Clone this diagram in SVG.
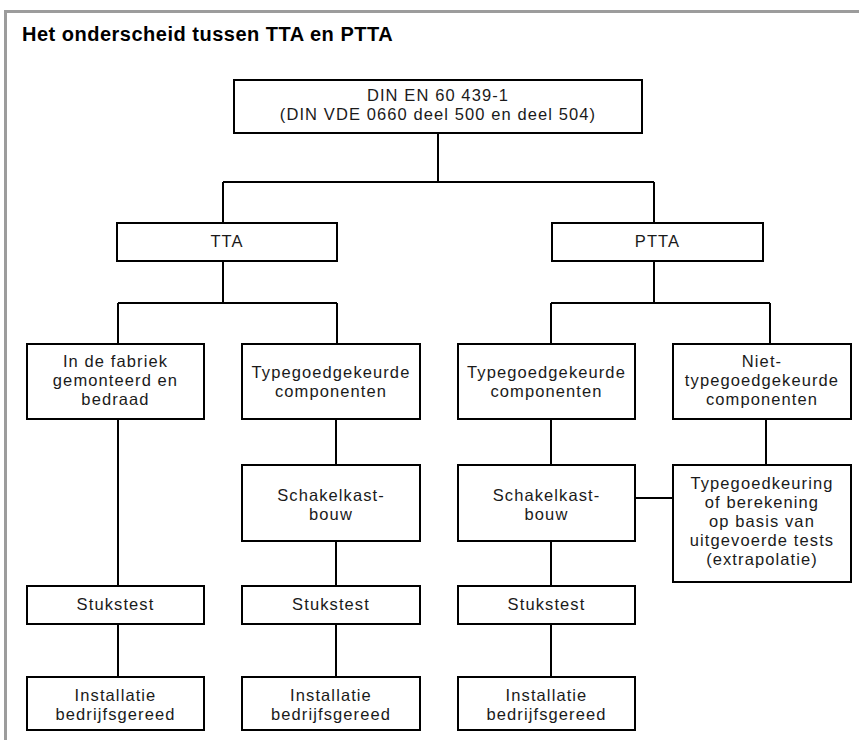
<svg xmlns="http://www.w3.org/2000/svg" width="859" height="740" viewBox="0 0 859 740">
<style>
.box{fill:#fff;stroke:#000;stroke-width:2}
.ln{stroke:#000;stroke-width:2;fill:none}
.t{font-family:"Liberation Sans",Arial,sans-serif;font-size:16.5px;letter-spacing:1.1px;fill:#1a1a1a;text-anchor:middle}
.title{font-family:"Liberation Sans",Arial,sans-serif;font-size:20px;font-weight:bold;letter-spacing:0.5px;fill:#000}
</style>
<rect x="0" y="0" width="859" height="740" fill="#fff"/>
<g id="frame">
<line x1="4" y1="11.5" x2="859" y2="11.5" stroke="#9c9c9c" stroke-width="3"/>
<line x1="5.5" y1="10" x2="5.5" y2="740" stroke="#9c9c9c" stroke-width="3"/>
</g>
<text class="title" x="22" y="41">Het onderscheid tussen TTA en PTTA</text>
<g id="connectors">
<path class="ln" d="M438,133 V182 M223,182 H654 M223,182 V223 M654,182 V223"/>
<path class="ln" d="M223,261 V303 M118,303 H337 M118,303 V344 M337,303 V344"/>
<path class="ln" d="M654,261 V303 M551,303 H770 M551,303 V344 M770,303 V344"/>
<path class="ln" d="M118,419 V586 M118,624 V677"/>
<path class="ln" d="M336,419 V465 M336,541 V586 M336,624 V677"/>
<path class="ln" d="M551,419 V465 M551,541 V586 M551,624 V677"/>
<path class="ln" d="M766,419 V465 M635,498 H673"/>
</g>
<g id="din">
<rect class="box" x="234" y="80" width="408" height="53"/>
<text class="t" x="438" y="101">DIN EN 60 439-1</text>
<text class="t" x="438" y="120">(DIN VDE 0660 deel 500 en deel 504)</text>
</g>
<g id="tta">
<rect class="box" x="117" y="223" width="220" height="38"/>
<text class="t" x="227" y="247">TTA</text>
</g>
<g id="ptta">
<rect class="box" x="552" y="223" width="211" height="38"/>
<text class="t" x="657.5" y="247">PTTA</text>
</g>
<g id="fabriek">
<rect class="box" x="27" y="344" width="177" height="75"/>
<text class="t" x="115.5" y="367">In de fabriek</text>
<text class="t" x="115.5" y="386">gemonteerd en</text>
<text class="t" x="115.5" y="405">bedraad</text>
</g>
<g id="typ1">
<rect class="box" x="242" y="344" width="178" height="75"/>
<text class="t" x="331" y="377.5">Typegoedgekeurde</text>
<text class="t" x="331" y="396.5">componenten</text>
</g>
<g id="typ2">
<rect class="box" x="458" y="344" width="177" height="75"/>
<text class="t" x="546.5" y="377.5">Typegoedgekeurde</text>
<text class="t" x="546.5" y="396.5">componenten</text>
</g>
<g id="niet">
<rect class="box" x="673" y="344" width="178" height="75"/>
<text class="t" x="762" y="367">Niet-</text>
<text class="t" x="762" y="386">typegoedgekeurde</text>
<text class="t" x="762" y="405">componenten</text>
</g>
<g id="schakel1">
<rect class="box" x="242" y="465" width="178" height="76"/>
<text class="t" x="331" y="501">Schakelkast-</text>
<text class="t" x="331" y="520">bouw</text>
</g>
<g id="schakel2">
<rect class="box" x="458" y="465" width="177" height="76"/>
<text class="t" x="546.5" y="501">Schakelkast-</text>
<text class="t" x="546.5" y="520">bouw</text>
</g>
<g id="keuring">
<rect class="box" x="673" y="465" width="178" height="117"/>
<text class="t" x="762" y="488.5">Typegoedkeuring</text>
<text class="t" x="762" y="507.5">of berekening</text>
<text class="t" x="762" y="526.5">op basis van</text>
<text class="t" x="762" y="545.5">uitgevoerde tests</text>
<text class="t" x="762" y="564.5">(extrapolatie)</text>
</g>
<g id="stuk1">
<rect class="box" x="27" y="586" width="177" height="38"/>
<text class="t" x="115.5" y="610">Stukstest</text>
</g>
<g id="stuk2">
<rect class="box" x="242" y="586" width="178" height="38"/>
<text class="t" x="331" y="610">Stukstest</text>
</g>
<g id="stuk3">
<rect class="box" x="458" y="586" width="177" height="38"/>
<text class="t" x="546.5" y="610">Stukstest</text>
</g>
<g id="inst1">
<rect class="box" x="27" y="677" width="177" height="53"/>
<text class="t" x="115.5" y="700.5">Installatie</text>
<text class="t" x="115.5" y="719.5">bedrijfsgereed</text>
</g>
<g id="inst2">
<rect class="box" x="242" y="677" width="178" height="53"/>
<text class="t" x="331" y="700.5">Installatie</text>
<text class="t" x="331" y="719.5">bedrijfsgereed</text>
</g>
<g id="inst3">
<rect class="box" x="458" y="677" width="177" height="53"/>
<text class="t" x="546.5" y="700.5">Installatie</text>
<text class="t" x="546.5" y="719.5">bedrijfsgereed</text>
</g>
</svg>
